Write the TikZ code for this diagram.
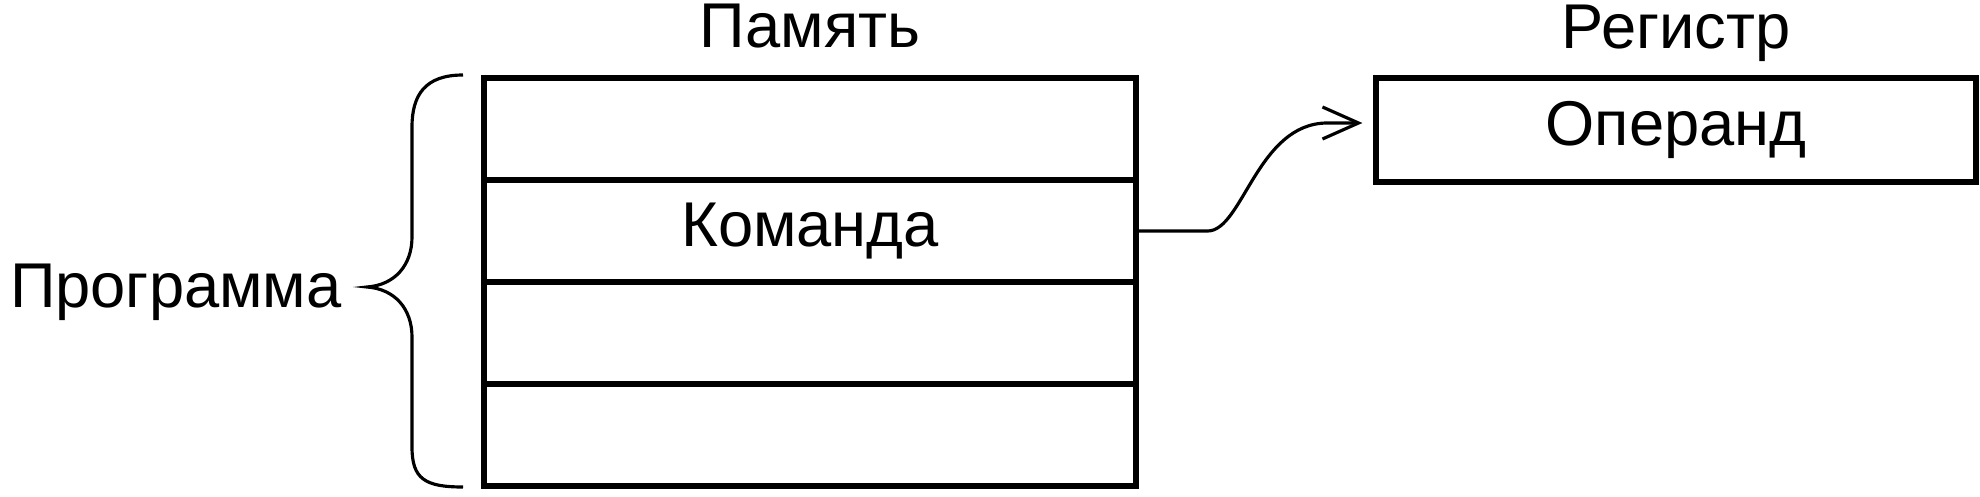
\documentclass[tikz,border=0pt]{standalone}
\usepackage{fontspec}
\setmainfont{Liberation Sans}
\usepackage{tikz}
\usetikzlibrary{arrows.meta,positioning}

\begin{document}
\begin{tikzpicture}[
    cell/.style={draw, line width=1.5pt, minimum width=6.52cm, minimum height=1.02cm, inner sep=0pt},
    regbox/.style={draw, line width=1.5pt, minimum width=6cm, minimum height=1.04cm, inner sep=0pt},
    txt/.style={font=\fontsize{18}{21}\selectfont},
    title/.style={txt, inner sep=1pt, anchor=base},
    link/.style={line width=0.9pt, -{Straight Barb[length=3.6mm,width=3.2mm,line width=0.9pt]}}
]

\useasboundingbox (0,0) rectangle (19.8,4.96);

\foreach \i/\txt in {1/{},2/Команда,3/{},4/{}}
    \node [cell, txt] (c\i) at (8.10, 4.69-1.02*\i) {\txt};

\node [regbox, txt] (reg) at (16.76,3.66) {Операнд};

\node [title] (mem) at ([yshift=2.8mm]c1.north) {Память};
\node [title] (regname) at ([yshift=2.7mm]reg.north) {Регистр};

\coordinate (tip) at (3.67,2.09);
\draw [line width=0.9pt] (4.63,4.21) .. controls (4.25,4.21) and (4.12,4.01) .. (4.12,3.69)
    -- (4.12,2.59) .. controls (4.12,2.31) and (3.95,2.11) .. (tip)
    .. controls (3.95,2.07) and (4.12,1.87) .. (4.12,1.59)
    -- (4.12,0.49) .. controls (4.12,0.17) and (4.25,0.09) .. (4.63,0.09);

\node [txt, anchor=base east] (prog) at ([xshift=-1.3mm,yshift=-2mm]tip) {Программа};

\draw [link] (c2.east) -- ++(0.69,0) .. controls +(0.35,0) and +(-0.7,0) .. ([xshift=-4.6mm,yshift=0.7mm]reg.west)
    -- ([xshift=-1.1mm,yshift=0.7mm]reg.west);

\end{tikzpicture}
\end{document}
